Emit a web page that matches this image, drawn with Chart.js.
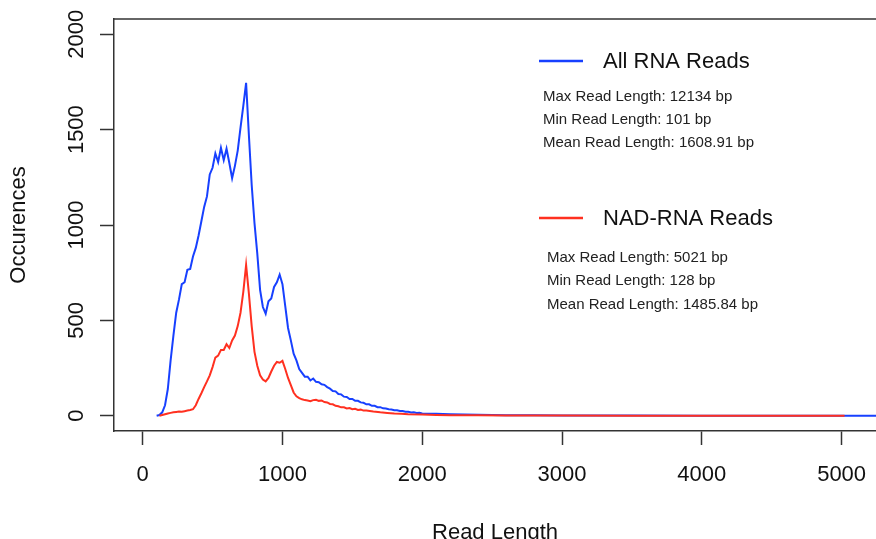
<!DOCTYPE html>
<html>
<head>
<meta charset="utf-8">
<script src="https://cdn.jsdelivr.net/npm/chart.js@4.4.1/dist/chart.umd.min.js"></script>
<style>
  html, body { margin: 0; padding: 0; background: #fff; }
  #wrap { width: 876px; height: 539px; position: relative; }
</style>
</head>
<body>
<div id="wrap"><canvas id="readChart"></canvas></div>
<script>
// read length histogram (bp -> occurences)
const readLengthAll = [100, 120, 140, 160, 180, 200, 220, 240, 260, 280, 300, 320, 340, 360, 380, 400, 420, 440, 460, 480,
    500, 520, 540, 560, 580, 600, 620, 640, 660, 680, 700, 720, 740, 760, 780, 800, 820, 840, 860, 880,
    900, 920, 940, 960, 980, 1000, 1020, 1040, 1060, 1080, 1100, 1120, 1140, 1160, 1180, 1200, 1220, 1240, 1260, 1280,
    1300, 1320, 1340, 1360, 1380, 1400, 1420, 1440, 1460, 1480, 1500, 1520, 1540, 1560, 1580, 1600, 1620, 1640, 1660, 1680,
    1700, 1720, 1740, 1760, 1780, 1800, 1820, 1840, 1860, 1880, 1900, 1920, 1940, 1960, 1980, 2000,
    2100, 2200, 2300, 2400, 2500, 2600, 2800, 3000, 3500, 4000, 4500, 5000, 5300];
const countsAll = [0, 4, 18, 55, 140, 290, 420, 540, 610, 690, 700, 765, 770, 835, 880, 945, 1020, 1095, 1150, 1265,
    1300, 1375, 1330, 1405, 1340, 1400, 1325, 1245, 1310, 1390, 1510, 1625, 1745, 1470, 1210, 1010, 850, 660, 570, 535,
    600, 615, 675, 700, 740, 690, 575, 460, 395, 325, 290, 245, 225, 205, 205, 185, 195, 178, 176, 165,
    162, 150, 142, 130, 128, 114, 112, 100, 98, 88, 88, 78, 78, 70, 68, 60, 60, 52, 52, 45,
    45, 39, 38, 34, 33, 29, 29, 25, 25, 21, 21, 17, 18, 14, 15, 12,
    10, 8, 6, 5, 4, 3, 2, 1, 1, 0, 0, 0, 0];

const readLengthNad = [120, 140, 160, 180, 200, 220, 240, 260, 280, 300, 320, 340, 360, 380, 400, 420, 440, 460, 480,
    500, 520, 540, 560, 580, 600, 620, 640, 660, 680, 700, 720, 740, 760, 780, 800, 820, 840, 860, 880,
    900, 920, 940, 960, 980, 1000, 1020, 1040, 1060, 1080, 1100, 1120, 1140, 1160, 1180, 1200, 1220, 1240, 1260, 1280,
    1300, 1320, 1340, 1360, 1380, 1400, 1420, 1440, 1460, 1480, 1500, 1520, 1540, 1560, 1580, 1600,
    1650, 1700, 1750, 1800, 1850, 1900, 2000, 2100, 2200, 2400, 2600, 3000, 3500, 4000, 4500, 5021];
const countsNad = [0, 4, 8, 12, 15, 18, 20, 22, 21, 24, 27, 30, 34, 55, 88, 118, 150, 180, 212,
    255, 305, 315, 345, 345, 375, 355, 395, 420, 470, 540, 650, 790, 640, 470, 335, 262, 212, 190, 180,
    198, 232, 262, 282, 278, 288, 245, 198, 160, 122, 102, 92, 86, 82, 80, 76, 82, 84, 78, 80,
    72, 70, 62, 60, 52, 50, 44, 44, 38, 40, 34, 36, 30, 32, 27, 28,
    22, 18, 15, 12, 10, 8, 6, 4, 3, 2, 1, 1, 0, 0, 0, 0];

const xTickValues = [0, 1000, 2000, 3000, 4000, 5000];
const yTickValues = [0, 500, 1000, 1500, 2000];

const statsAll = ['Max Read Length: 12134 bp', 'Min Read Length: 101 bp', 'Mean Read Length: 1608.91 bp'];
const statsNad = ['Max Read Length: 5021 bp', 'Min Read Length: 128 bp', 'Mean Read Length: 1485.84 bp'];

const FONT = '"Liberation Sans", Arial, Helvetica, sans-serif';
const AXIS_COLOR = '#333';

function toPoints(xs, ys) {
    return xs.map((x, i) => ({x: x, y: ys[i]}));
}

// top edge of the box + the legend / stats block
const boxAndLegend = {
    id: 'boxAndLegend',
    afterDraw(chart) {
        const ctx = chart.ctx;
        const area = chart.chartArea;
        ctx.save();
        ctx.strokeStyle = AXIS_COLOR;
        ctx.lineWidth = 1.5;
        ctx.beginPath();
        ctx.moveTo(area.left, area.top);
        ctx.lineTo(area.right, area.top);
        ctx.stroke();

        const blocks = [
            {ds: chart.data.datasets[1], y: 61, stats: statsAll, statsX: 543, statsY: [97, 120, 143]},
            {ds: chart.data.datasets[0], y: 218, stats: statsNad, statsX: 547, statsY: [258, 281, 305]}
        ];
        blocks.forEach(b => {
            ctx.strokeStyle = b.ds.borderColor;
            ctx.lineWidth = 2.5;
            ctx.beginPath();
            ctx.moveTo(539, b.y);
            ctx.lineTo(583, b.y);
            ctx.stroke();

            ctx.fillStyle = '#111';
            ctx.textAlign = 'left';
            ctx.textBaseline = 'middle';
            ctx.font = '22px ' + FONT;
            ctx.fillText(b.ds.label, 603, b.y + 1);

            ctx.font = '15px ' + FONT;
            ctx.fillStyle = '#222';
            b.stats.forEach((s, i) => ctx.fillText(s, b.statsX, b.statsY[i]));
        });
        ctx.restore();
    }
};

const ctx = document.getElementById('readChart').getContext('2d');

const readChart = new Chart(ctx, {
    type: 'line',
    data: {
        datasets: [{
            label: 'NAD-RNA Reads',
            data: toPoints(readLengthNad, countsNad),
            borderColor: '#ff3020',
            borderWidth: 2,
            pointRadius: 0,
            tension: 0,
            order: 1
        },
            {
                label: 'All RNA Reads',
                data: toPoints(readLengthAll, countsAll),
                borderColor: '#1740ff',
                borderWidth: 2,
                pointRadius: 0,
                tension: 0,
                order: 2
            }]
    },
    options: {
        responsive: true,
        maintainAspectRatio: false,
        animation: false,
        layout: {
            padding: {top: 19, left: 0, right: 0, bottom: 0}
        },
        plugins: {
            legend: {display: false},
            tooltip: {enabled: false}
        },
        scales: {
            x: {
                type: 'linear',
                min: -205,
                max: 5246,
                afterBuildTicks: scale => {
                    scale.ticks = xTickValues.map(v => ({value: v}));
                },
                afterFit: scale => {
                    scale.height = 108;
                    scale.paddingLeft = 0;
                    scale.paddingRight = 0;
                },
                grid: {
                    drawOnChartArea: false,
                    tickLength: 14,
                    tickColor: AXIS_COLOR,
                    tickWidth: 1.5
                },
                border: {display: true, color: AXIS_COLOR, width: 1.5},
                ticks: {
                    maxRotation: 0,
                    padding: 17,
                    color: '#111',
                    font: {family: FONT, size: 22},
                    callback: v => String(v)
                },
                title: {
                    display: true,
                    text: 'Read Length',
                    color: '#111',
                    font: {family: FONT, size: 22, lineHeight: 1},
                    padding: {top: 0, bottom: -5}
                }
            },
            y: {
                type: 'linear',
                min: -80,
                max: 2080,
                afterBuildTicks: scale => {
                    scale.ticks = yTickValues.map(v => ({value: v}));
                },
                afterFit: scale => {
                    scale.width = 114;
                    scale.paddingTop = 0;
                    scale.paddingBottom = 0;
                },
                grid: {
                    drawOnChartArea: false,
                    tickLength: 14,
                    tickColor: AXIS_COLOR,
                    tickWidth: 1.5
                },
                border: {display: true, color: AXIS_COLOR, width: 1.5},
                ticks: {
                    minRotation: 90,
                    maxRotation: 90,
                    crossAlign: 'center',
                    padding: -1,
                    color: '#111',
                    font: {family: FONT, size: 22},
                    callback: v => String(v)
                },
                title: {
                    display: true,
                    text: 'Occurences',
                    color: '#111',
                    font: {family: FONT, size: 22, lineHeight: 1},
                    padding: {top: 8, bottom: 0}
                }
            }
        }
    },
    plugins: [boxAndLegend]
});
</script>
</body>
</html>
